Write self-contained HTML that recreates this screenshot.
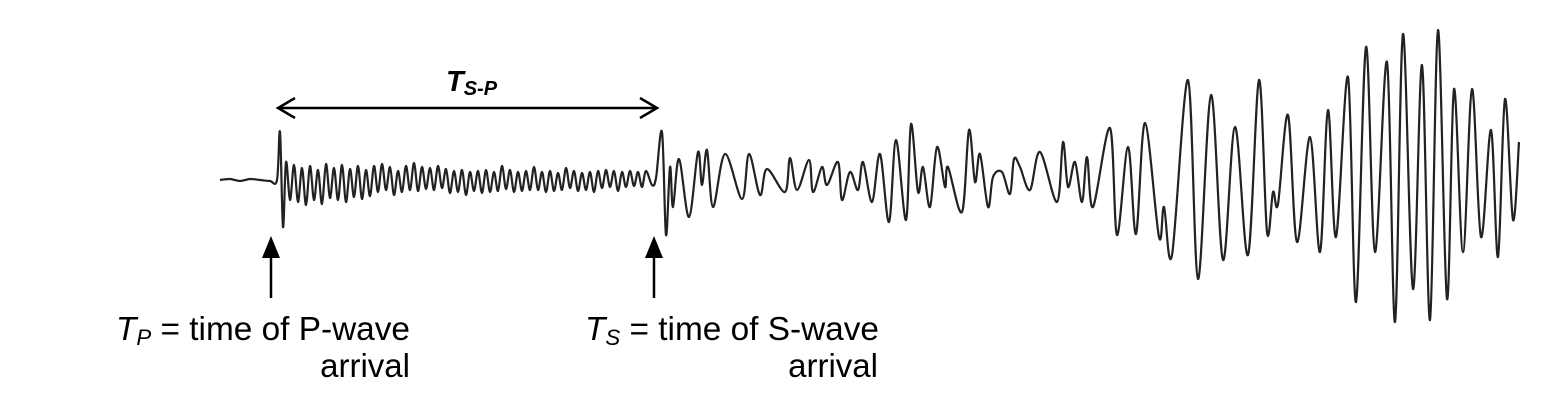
<!DOCTYPE html>
<html><head><meta charset="utf-8"><style>
html,body{margin:0;padding:0;background:#fff;}
svg{display:block;}
text{font-family:"Liberation Sans",Arial,sans-serif;fill:#000;}
</style></head><body>
<svg id="chart" width="1565" height="420" viewBox="0 0 1565 420" xmlns="http://www.w3.org/2000/svg">
<g id="trace"></g>
<g>
<line x1="279" y1="108" x2="656" y2="108" stroke="#000" stroke-width="2.5"/>
<path d="M295,98 L278,108 L295,118" fill="none" stroke="#000" stroke-width="2.5"/>
<path d="M640,98 L657,108 L640,118" fill="none" stroke="#000" stroke-width="2.5"/>
</g>
<text x="446" y="91" font-size="29" font-weight="bold" font-style="italic">T<tspan font-size="20" dy="4">S-P</tspan></text>
<g>
<line x1="271" y1="298" x2="271" y2="250" stroke="#000" stroke-width="2.5"/>
<polygon points="262,258 280,258 271,236" fill="#000"/>
</g>
<g>
<line x1="654" y1="298" x2="654" y2="250" stroke="#000" stroke-width="2.5"/>
<polygon points="645,258 663,258 654,236" fill="#000"/>
</g>
<text x="116" y="340" font-size="33" textLength="294" lengthAdjust="spacingAndGlyphs"><tspan font-style="italic">T</tspan><tspan font-style="italic" font-size="22" dy="5">P</tspan><tspan dy="-5"> = time of P-wave</tspan></text>
<text x="410" y="377" font-size="33" text-anchor="end">arrival</text>
<text x="585" y="340" font-size="33" textLength="294" lengthAdjust="spacingAndGlyphs"><tspan font-style="italic">T</tspan><tspan font-style="italic" font-size="22" dy="5">S</tspan><tspan dy="-5"> = time of S-wave</tspan></text>
<text x="878" y="377" font-size="33" text-anchor="end">arrival</text>
</svg>
<script>
// pre-event noise (time, amplitude)
var preTimes = [220,230,240,250,260,270,277];
var preValues = [0,1,-1,1,0,-1,0];
// P arrival
var pTimes = [280,283];
var pValues = [48,-47];
// P coda regularly sampled
var codaStart = 286;
var codaStep = 4;
var codaValues = [18,-20,15,-22,12,-25,14,-20,10,-24,16,-18,12,-20,15,-22,11,-17,14,-19,10,-16,
14,-12,16,-10,13,-15,9,-12,14,-10,17,-11,13,-9,12,-10,14,-8,11,-13,9,-12,10,-15,8,-11,9,-13,10,-12,8,-11,14,-9,10,-12,8,-11,9,-10,13,
-10,8,-12,9,-11,7,-10,12,-8,9,-11,7,-10,8,-12,9,-8,10,-7,9,-11,8,-7,9,-6,8,-7,9];
// S and surface waves (time, amplitude)
var sTimes = [652,656,662,666,670,673,679,689,698,702,707,713,725,742,749,760,767,785,790,797,809,813,822,827,838,842,850,858,863,872,880,889,896,906,911,918,923,930,937,945,948,962,969,975,980,988,993,1002,1010,1014,1020,1030,1040,1057,1063,1068,1075,1082,1087,1093,1110,1117,1128,1136,1145,1159,1164,1172,1188,1198,1211,1223,1235,1248,1259,1267,1273,1278,1288,1297,1310,1320,1328,1336,1348,1356,1366,1375,1387,1395,1403,1413,1422,1430,1438,1447,1454,1463,1472,1481,1491,1498,1505,1513,1519];
var sValues = [-5,2,48,-55,13,-27,21,-37,28,-5,30,-27,26,-19,26,-15,11,-12,22,-10,20,-12,13,-5,18,-20,8,-10,18,-22,26,-42,40,-40,56,-12,13,-27,33,-7,13,-32,50,-2,26,-27,3,8,-14,21,13,-10,28,-22,38,-7,18,-22,23,-27,52,-55,33,-54,57,-57,-27,-75,100,-99,85,-80,53,-75,100,-52,-12,-24,65,-62,43,-72,70,-57,103,-122,133,-72,118,-142,146,-109,115,-140,150,-119,91,-72,91,-57,50,-77,81,-40,38];

var baseY = 180;
function xScale(t){ return 220 + (t - 220) * 1.0; }
function yScale(v){ return baseY - v; }

var pts = [];
for (var i = 0; i < preTimes.length; i++) pts.push([xScale(preTimes[i]), yScale(preValues[i])]);
for (var i = 0; i < pTimes.length; i++) pts.push([xScale(pTimes[i]), yScale(pValues[i])]);
for (var i = 0; i < codaValues.length; i++) pts.push([xScale(codaStart + i * codaStep), yScale(codaValues[i])]);
for (var i = 0; i < sTimes.length; i++) pts.push([xScale(sTimes[i]), yScale(sValues[i])]);

var d = 'M' + pts[0][0] + ',' + pts[0][1];
for (var i = 0; i < pts.length - 1; i++) {
  var p0 = pts[i - 1] || pts[i], p1 = pts[i], p2 = pts[i + 1], p3 = pts[i + 2] || p2;
  var c1x = p1[0] + (p2[0] - p0[0]) / 6, c1y = p1[1] + (p2[1] - p0[1]) / 6;
  var c2x = p2[0] - (p3[0] - p1[0]) / 6, c2y = p2[1] - (p3[1] - p1[1]) / 6;
  if (c1x > p2[0]) c1x = p2[0]; if (c2x < p1[0]) c2x = p1[0];
  d += ' C' + c1x.toFixed(1) + ',' + c1y.toFixed(1) + ' ' + c2x.toFixed(1) + ',' + c2y.toFixed(1) + ' ' + p2[0].toFixed(1) + ',' + p2[1].toFixed(1);
}
var path = document.createElementNS('http://www.w3.org/2000/svg', 'path');
path.setAttribute('d', d);
path.setAttribute('fill', 'none');
path.setAttribute('stroke', '#222');
path.setAttribute('stroke-width', '2.2');
path.setAttribute('stroke-linejoin', 'round');


document.getElementById('trace').appendChild(path);
</script>
</body></html>
